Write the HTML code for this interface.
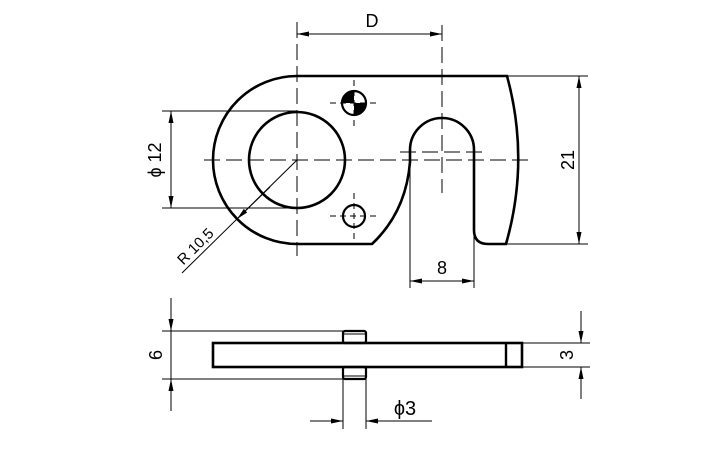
<!DOCTYPE html>
<html><head><style>body{margin:0;background:#fff}svg{display:block}text{font-family:"Liberation Sans",sans-serif;fill:#000}</style></head><body>
<svg width="707" height="449" viewBox="0 0 707 449" xmlns="http://www.w3.org/2000/svg">
<defs><marker id="a" viewBox="0 0 12 5" refX="12" refY="2.5" markerWidth="12" markerHeight="5" orient="auto-start-reverse" markerUnits="userSpaceOnUse"><path d="M0,0L12,2.5L0,5z" fill="#000"/></marker></defs>
<g stroke="#000" fill="none">
<path stroke-width="2.6" d="M297,76 L507,76 Q530,160 506,244 L488,244 Q474,244 474,230 L474,150 A32,32 0 0 0 410,150 L410,162 Q406,212 372,244 L297,244 A84,84 0 0 1 297,76 Z"/>
<circle cx="297" cy="160" r="48" stroke-width="2.6"/>
<circle cx="354" cy="216" r="11" stroke-width="2.2"/>
<circle cx="354" cy="103" r="12" stroke-width="2.2"/>
<path d="M354,103 L354,91 A12,12 0 0 0 342,103 Z M354,103 L366,103 A12,12 0 0 1 354,115 Z" fill="#000" stroke="none"/>
<g stroke-width="1" stroke-dasharray="16,6">
<line x1="204" y1="160" x2="532" y2="160"/>
<line x1="297" y1="22" x2="297" y2="256"/>
<line x1="442" y1="25" x2="442" y2="193"/>
<line x1="400" y1="152" x2="484" y2="152"/>
</g>
<g stroke-width="1" stroke-dasharray="6,4">
<line x1="354" y1="80" x2="354" y2="126"/>
<line x1="330" y1="103" x2="378" y2="103"/>
<line x1="354" y1="193" x2="354" y2="240"/>
<line x1="330" y1="216" x2="378" y2="216"/>
</g>
<g stroke-width="1">
<line x1="297" y1="34" x2="442" y2="34" marker-start="url(#a)" marker-end="url(#a)"/>
<line x1="162" y1="111" x2="297" y2="111"/><line x1="162" y1="208" x2="297" y2="208"/>
<line x1="171" y1="111" x2="171" y2="208" marker-start="url(#a)" marker-end="url(#a)"/>
<line x1="507" y1="76" x2="588" y2="76"/><line x1="506" y1="244" x2="588" y2="244"/>
<line x1="579" y1="76" x2="579" y2="244" marker-start="url(#a)" marker-end="url(#a)"/>
<line x1="410" y1="160" x2="410" y2="288"/><line x1="474" y1="230" x2="474" y2="288"/>
<line x1="410" y1="281" x2="474" y2="281" marker-start="url(#a)" marker-end="url(#a)"/>
<line x1="297" y1="160" x2="182" y2="273"/>
<line x1="270" y1="187" x2="237" y2="219" marker-end="url(#a)"/>
</g>
<rect x="213" y="343" width="309" height="24" stroke-width="2.6"/>
<line x1="506" y1="343" x2="506" y2="367" stroke-width="2.4"/>
<rect x="343" y="331" width="23" height="12" rx="2" stroke-width="2.2"/>
<rect x="343" y="367" width="23" height="12" rx="2" stroke-width="2.2"/>
<line x1="344" y1="334" x2="365" y2="334" stroke-width="1"/><line x1="344" y1="376" x2="365" y2="376" stroke-width="1"/>
<g stroke-width="1">
<line x1="162" y1="331" x2="343" y2="331"/><line x1="162" y1="379" x2="343" y2="379"/>
<line x1="171" y1="298" x2="171" y2="331" marker-end="url(#a)"/><line x1="171" y1="411" x2="171" y2="379" marker-end="url(#a)"/>
<line x1="171" y1="331" x2="171" y2="379"/>
<line x1="522" y1="343" x2="590" y2="343"/><line x1="522" y1="367" x2="590" y2="367"/>
<line x1="581" y1="311" x2="581" y2="343" marker-end="url(#a)"/><line x1="581" y1="399" x2="581" y2="367" marker-end="url(#a)"/>
<line x1="343" y1="379" x2="343" y2="429"/><line x1="366" y1="379" x2="366" y2="429"/>
<line x1="310" y1="421" x2="343" y2="421" marker-end="url(#a)"/><line x1="432" y1="421" x2="366" y2="421" marker-end="url(#a)"/>
</g>
</g>
<g font-size="18">
<text x="372" y="27" text-anchor="middle">D</text>
<text x="442" y="274" text-anchor="middle">8</text>
<text transform="translate(161,160) rotate(-90)" text-anchor="middle">ϕ 12</text>
<text transform="translate(574,160) rotate(-90)" text-anchor="middle">21</text>
<text transform="translate(162,355) rotate(-90)" text-anchor="middle">6</text>
<text transform="translate(573,355) rotate(-90)" text-anchor="middle">3</text>
<text x="405" y="415" text-anchor="middle" font-size="20">ϕ3</text>
<text transform="translate(199,250) rotate(-45)" text-anchor="middle" font-size="15">R 10,5</text>
</g>
</svg>
</body></html>
